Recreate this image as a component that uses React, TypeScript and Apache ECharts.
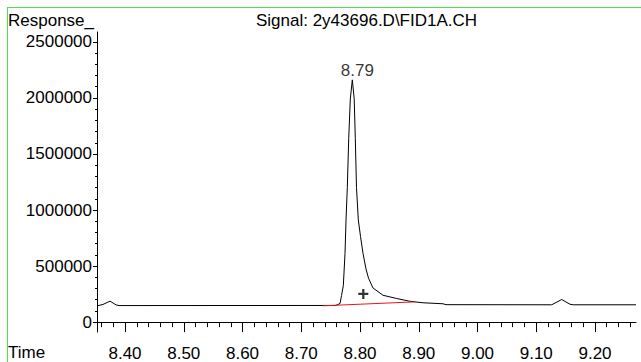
import React, { useEffect, useRef } from "react";
import * as echarts from "echarts";

// Chromatogram trace (retention time in min, response)
const times = [
  8.3523, 8.3625, 8.3694, 8.3745, 8.3796, 8.3847, 8.3898,
  8.7591, 8.766, 8.7685, 8.7716, 8.7745, 8.7762, 8.7784, 8.7808, 8.7835,
  8.7869, 8.7901, 8.792, 8.794, 8.7971, 8.8009, 8.8051, 8.8102, 8.8145,
  8.8221, 8.8391, 8.8625, 8.8851, 8.9072, 8.9413, 8.9464,
  9.1263, 9.1336, 9.1433, 9.1506, 9.1574, 9.163, 9.2698,
];
const responses = [
  145000, 158000, 175000, 187000, 171000, 154000, 148000,
  149000, 167000, 237000, 325000, 614000, 912000, 1202000, 1640000, 1991000,
  2161000, 1991000, 1640000, 1202000, 912000, 763000, 614000, 474000, 392000,
  305000, 240000, 211000, 186000, 173000, 164000, 156000,
  155000, 175000, 202000, 180000, 160000, 155000, 155000,
];

// Integration baseline (red)
const baselineTimes = [8.737, 8.8936];
const baselineResponses = [146000, 181000];

// Peak apex and its retention-time label
const peakTimes = [8.7869];
const peakResponses = [2161000];
const peakLabels = ["8.79"];

// "+" marker
const markerTimes = [8.8056];
const markerResponses = [252000];

// Axis ticks
const xMajorTicks = [8.4, 8.5, 8.6, 8.7, 8.8, 8.9, 9.0, 9.1, 9.2];
const xLabels = ["8.40", "8.50", "8.60", "8.70", "8.80", "8.90", "9.00", "9.10", "9.20"];
const yMajorTicks = [0, 500000, 1000000, 1500000, 2000000, 2500000];

const X_MIN = 8.3523;
const X_MAX = 9.2698;
const Y_MIN = -87700;
const Y_MAX = 2587700;

const TITLE = "Signal: 2y43696.D\\FID1A.CH";
const FONT = "'Liberation Sans', Arial, sans-serif";

export default function App() {
  const ref = useRef<HTMLDivElement>(null);

  useEffect(() => {
    if (!ref.current) return;
    const chart = echarts.init(ref.current, undefined, { renderer: "svg" });

    const xMinor: number[] = [];
    for (let i = 0; i <= 50; i++) {
      const v = Math.round((8.36 + i * 0.02) * 100) / 100;
      if (v <= X_MAX) xMinor.push(v);
    }
    const yMinor: number[] = [];
    for (let v = 0; v <= 2500000; v += 100000) yMinor.push(v);

    const pair = (a: number[], b: number[]) => a.map((t, i) => [t, b[i]]);

    const labelStyle = { color: "#000", fontFamily: FONT, fontSize: 17 };

    chart.setOption({
      animation: false,
      backgroundColor: "#fff",
      grid: { left: 97, top: 32, width: 539, height: 305, containLabel: false },
      xAxis: [
        {
          type: "value",
          min: X_MIN,
          max: X_MAX,
          axisLine: { show: true, lineStyle: { color: "#000", width: 1 } },
          axisTick: { show: true, length: 10, customValues: xMajorTicks, lineStyle: { color: "#000" } },
          axisLabel: {
            show: true,
            customValues: xMajorTicks,
            margin: 13,
            ...labelStyle,
            formatter: (v: number) => {
              const i = xMajorTicks.findIndex((t) => Math.abs(t - v) < 1e-6);
              return i >= 0 ? xLabels[i] : "";
            },
          },
          splitLine: { show: false },
        },
        {
          type: "value",
          position: "bottom",
          min: X_MIN,
          max: X_MAX,
          axisLine: { show: false },
          axisTick: { show: true, length: 5, customValues: xMinor, lineStyle: { color: "#000" } },
          axisLabel: { show: false },
          splitLine: { show: false },
        },
      ],
      yAxis: [
        {
          type: "value",
          min: Y_MIN,
          max: Y_MAX,
          axisLine: { show: true, lineStyle: { color: "#000", width: 1 } },
          axisTick: { show: true, length: 4, customValues: yMajorTicks, lineStyle: { color: "#000" } },
          axisLabel: {
            show: true,
            customValues: yMajorTicks,
            margin: 5,
            ...labelStyle,
            formatter: (v: number) => String(Math.round(v)),
          },
          splitLine: { show: false },
        },
        {
          type: "value",
          position: "left",
          min: Y_MIN,
          max: Y_MAX,
          axisLine: { show: false },
          axisTick: { show: true, length: 2, customValues: yMinor, lineStyle: { color: "#000" } },
          axisLabel: { show: false },
          splitLine: { show: false },
        },
      ],
      graphic: [
        {
          type: "line",
          shape: { x1: 7.5, y1: 7, x2: 7.5, y2: 362 },
          style: { stroke: "#4ddf4d", lineWidth: 1 },
        },
        {
          type: "line",
          shape: { x1: 7, y1: 7.5, x2: 641, y2: 7.5 },
          style: { stroke: "#4ddf4d", lineWidth: 1 },
        },
        {
          type: "text",
          x: 366.5,
          y: 20,
          style: { text: TITLE, fill: "#000", font: `17px ${FONT}`, align: "center", verticalAlign: "middle" },
        },
        {
          type: "text",
          x: 8,
          y: 20,
          style: { text: "Response_", fill: "#000", font: `17px ${FONT}`, align: "left", verticalAlign: "middle" },
        },
        {
          type: "text",
          x: 8,
          y: 352,
          style: { text: "Time", fill: "#000", font: `17px ${FONT}`, align: "left", verticalAlign: "middle" },
        },
      ],
      series: [
        {
          name: "FID1A",
          type: "line",
          data: pair(times, responses),
          showSymbol: false,
          symbol: "none",
          lineStyle: { color: "#000", width: 1 },
          silent: true,
        },
        {
          name: "baseline",
          type: "line",
          data: pair(baselineTimes, baselineResponses),
          showSymbol: false,
          symbol: "none",
          lineStyle: { color: "#e8141a", width: 1 },
          silent: true,
        },
        {
          name: "peak",
          type: "scatter",
          data: pair(peakTimes, peakResponses),
          symbolSize: 0,
          label: {
            show: true,
            position: "top",
            distance: 1,
            offset: [5, 0],
            ...labelStyle,
            formatter: (p: any) => peakLabels[p.dataIndex],
          },
          silent: true,
        },
        {
          name: "marker",
          type: "scatter",
          data: pair(markerTimes, markerResponses),
          symbol: "path://M3.5,0h2v3.5h3.5v2h-3.5v3.5h-2v-3.5h-3.5v-2h3.5z",
          symbolSize: 10,
          itemStyle: { color: "#000" },
          silent: true,
        },
      ],
    });

    return () => chart.dispose();
  }, []);

  return (
    <div
      ref={ref}
      style={{ position: "fixed", left: 0, top: 0, width: 641, height: 362, background: "#fff" }}
    />
  );
}
